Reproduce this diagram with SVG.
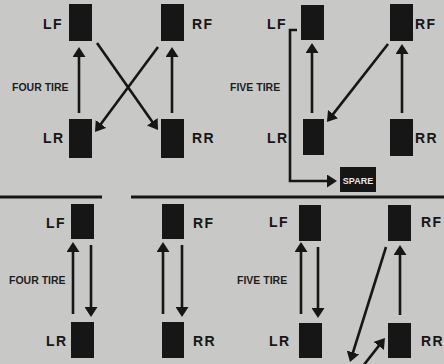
<svg xmlns="http://www.w3.org/2000/svg" width="444" height="364" viewBox="0 0 444 364">
<defs>
<style>
.tire{fill:#161616}
.lbl{font-family:"Liberation Sans",Arial,sans-serif;font-weight:bold;font-size:14px;fill:#161616;letter-spacing:1.5px}
.cap{font-family:"Liberation Sans",Arial,sans-serif;font-weight:bold;font-size:10.5px;fill:#1e1e1e}
.spare{font-family:"Liberation Sans",Arial,sans-serif;font-weight:bold;font-size:9px;fill:#e8e8e8}
.ar{stroke:#161616;stroke-width:2.6;fill:none;marker-end:url(#ah)}
.div{stroke:#161616;stroke-width:3}
</style>
<marker id="ah" markerUnits="userSpaceOnUse" viewBox="0 0 10 13" markerWidth="10" markerHeight="13" refX="7" refY="6.5" orient="auto">
<path d="M0,0 L10,6.5 L0,13 z" fill="#161616"/>
</marker>
</defs>
<rect width="444" height="364" fill="#c8c8c6"/>
<line class="div" x1="0" y1="197" x2="102" y2="197"/>
<line class="div" x1="131" y1="197" x2="444" y2="197"/>

<g id="tl-lf"><rect class="tire" x="69" y="4" width="23" height="37"/><text class="lbl" x="43" y="29">LF</text></g>
<g id="tl-rf"><rect class="tire" x="161" y="4" width="23" height="37"/><text class="lbl" x="192" y="29">RF</text></g>
<g id="tl-lr"><rect class="tire" x="69" y="119" width="23" height="39"/><text class="lbl" x="43" y="143">LR</text></g>
<g id="tl-rr"><rect class="tire" x="161" y="119" width="23" height="39"/><text class="lbl" x="192" y="143">RR</text></g>
<g id="tl-title"><text class="cap" x="12" y="91">FOUR TIRE</text></g>

<g id="tr-lf"><rect class="tire" x="301" y="5" width="23" height="35"/><text class="lbl" x="267" y="29">LF</text></g>
<g id="tr-rf"><rect class="tire" x="390" y="4" width="23" height="37"/><text class="lbl" x="415" y="29">RF</text></g>
<g id="tr-lr"><rect class="tire" x="303" y="119" width="21" height="36"/><text class="lbl" x="267" y="143">LR</text></g>
<g id="tr-rr"><rect class="tire" x="390" y="119" width="23" height="37"/><text class="lbl" x="415" y="143">RR</text></g>
<g id="tr-spare"><rect class="tire" x="340" y="167" width="36" height="25"/><text class="spare" x="358" y="183.5" text-anchor="middle">SPARE</text></g>
<g id="tr-title"><text class="cap" x="230" y="91">FIVE TIRE</text></g>

<g id="bl-lf"><rect class="tire" x="71" y="204" width="23" height="35"/><text class="lbl" x="46" y="228">LF</text></g>
<g id="bl-rf"><rect class="tire" x="162" y="204" width="22" height="35"/><text class="lbl" x="193" y="228">RF</text></g>
<g id="bl-lr"><rect class="tire" x="71" y="322" width="23" height="36"/><text class="lbl" x="46" y="346">LR</text></g>
<g id="bl-rr"><rect class="tire" x="162" y="322" width="22" height="36"/><text class="lbl" x="193" y="346">RR</text></g>
<g id="bl-title"><text class="cap" x="9" y="284">FOUR TIRE</text></g>

<g id="br-lf"><rect class="tire" x="299" y="205" width="22" height="36"/><text class="lbl" x="269" y="227">LF</text></g>
<g id="br-rf"><rect class="tire" x="388" y="205" width="23" height="36"/><text class="lbl" x="421" y="227">RF</text></g>
<g id="br-lr"><rect class="tire" x="299" y="323" width="23" height="35"/><text class="lbl" x="269" y="346">LR</text></g>
<g id="br-rr"><rect class="tire" x="388" y="323" width="23" height="35"/><text class="lbl" x="421" y="346">RR</text></g>
<g id="br-title"><text class="cap" x="237" y="284">FIVE TIRE</text></g>

<g id="connectors">
<line class="ar" x1="79" y1="113" x2="79" y2="50"/>
<line class="ar" x1="172" y1="113" x2="172" y2="50"/>
<line class="ar" x1="97" y1="43" x2="156.3" y2="127.5"/>
<line class="ar" x1="158" y1="47" x2="96.8" y2="129.6"/>

<line class="ar" x1="312" y1="113" x2="312" y2="46"/>
<line class="ar" x1="402" y1="113" x2="402" y2="47"/>
<line class="ar" x1="388" y1="44" x2="328.8" y2="119.6"/>
<path class="ar" d="M297,30 H290 V181 H334"/>

<line class="ar" x1="73" y1="314" x2="73" y2="245"/>
<line class="ar" x1="91" y1="245" x2="91" y2="314"/>
<line class="ar" x1="163" y1="314" x2="163" y2="245"/>
<line class="ar" x1="182" y1="245" x2="182" y2="314"/>

<line class="ar" x1="301" y1="314" x2="301" y2="245"/>
<line class="ar" x1="318" y1="247" x2="318" y2="315"/>
<line class="ar" x1="400" y1="315" x2="400" y2="248"/>
<line class="ar" x1="386" y1="247" x2="350.9" y2="359.1"/>
<line class="ar" x1="363" y1="366" x2="383.1" y2="340.4"/>
</g>
</svg>
